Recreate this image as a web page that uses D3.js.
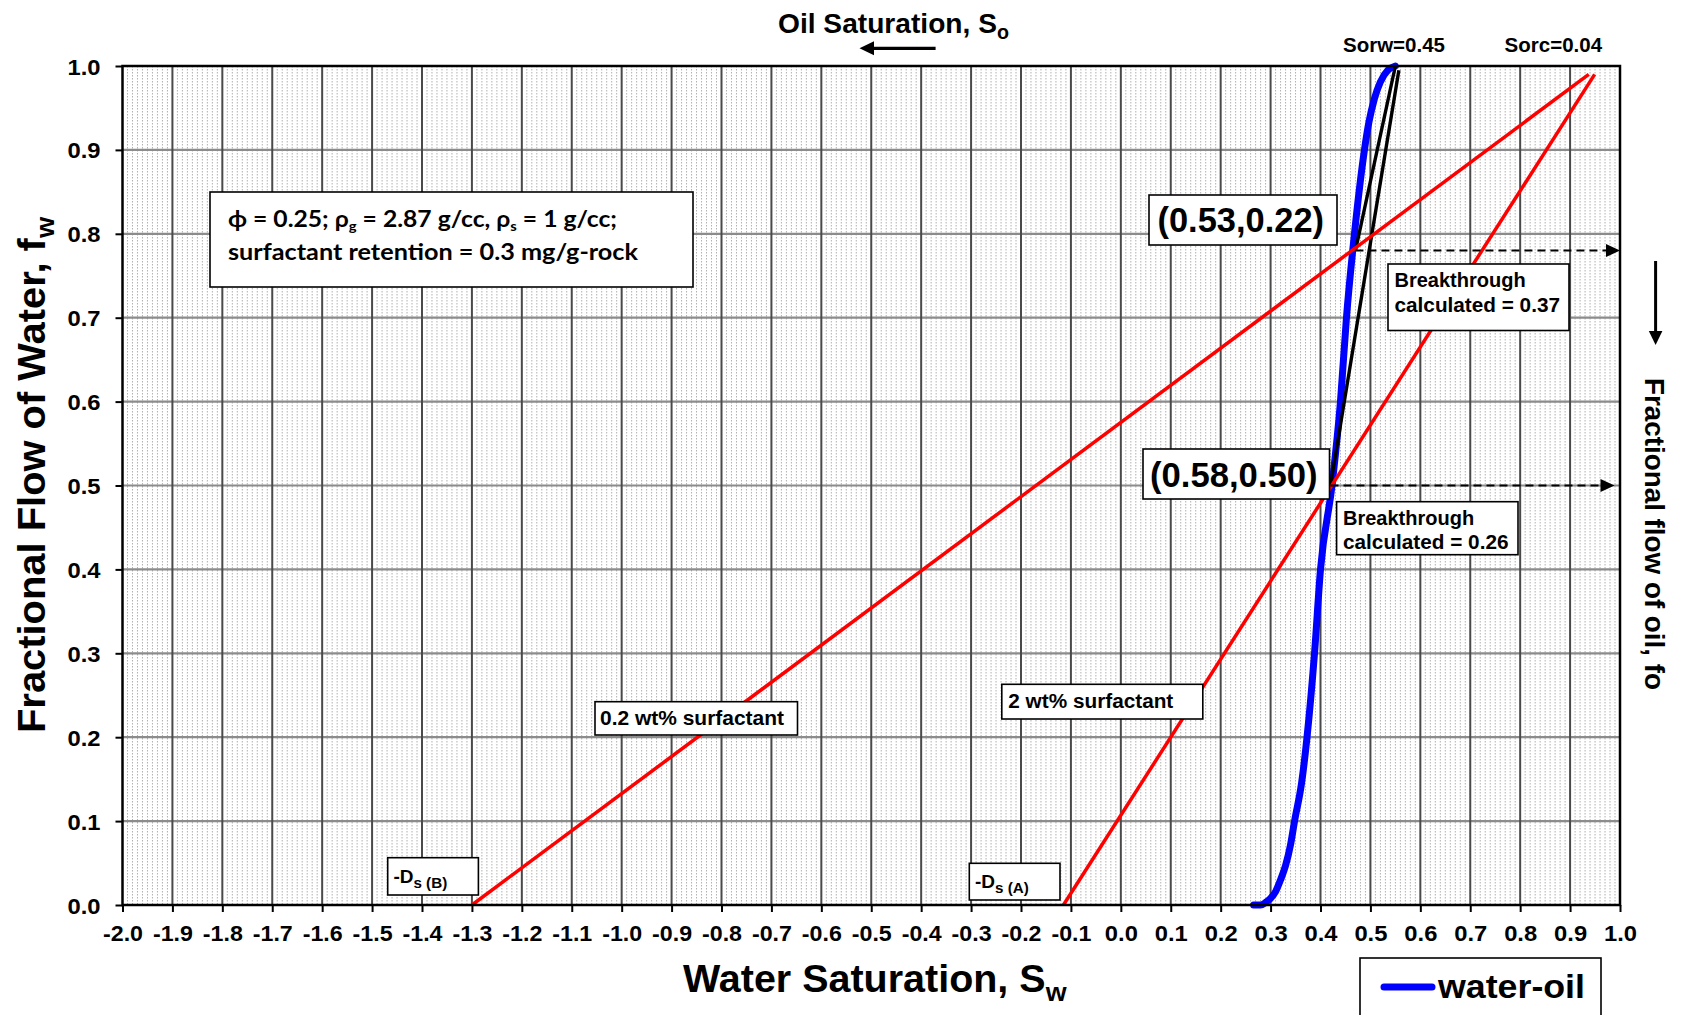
<!DOCTYPE html>
<html>
<head>
<meta charset="utf-8">
<script src="https://cdn.jsdelivr.net/npm/d3@7"></script>
<style>
  body { margin: 0; background: #fff; }
  svg { display: block; }
</style>
</head>
<body>
<svg id="chart" width="1681" height="1015"></svg>
<script>
// ---- Water-oil fractional flow curve (Sw, fw) ----
const waterOilSw = [0.266, 0.280, 0.290, 0.300, 0.310, 0.320, 0.330, 0.340, 0.348, 0.362, 0.373,
                    0.388, 0.400, 0.423, 0.440, 0.452, 0.468, 0.488, 0.497, 0.508, 0.520, 0.535, 0.550];
const waterOilFw = [0.000, 0.000, 0.003, 0.008, 0.016, 0.030, 0.047, 0.072, 0.100, 0.145, 0.200,
                    0.300, 0.400, 0.500, 0.600, 0.700, 0.800, 0.900, 0.933, 0.961, 0.981, 0.995, 1.000];

// ---- Residual oil saturations ----
const sorw = 0.45;   // water flood
const sorc = 0.04;   // chemical flood

// ---- Surfactant adsorption lines: from -Ds on the Sw axis towards (1 - Sorc, 1) ----
const surfactantNames = ["0.2 wt% surfactant", "2 wt% surfactant"];
const dsTags = ["(B)", "(A)"];
const dsValues = [1.30, 0.115];
const surfTopFw = 0.99;

// ---- Tangent lines drawn from the top of the water-oil curve ----
const tangentTopSw = [0.550, 0.557];
const tangentTopFw = [1.000, 0.995];

// ---- Shock points, labelled as (So, fo), and breakthrough values ----
const shockSo = [0.53, 0.58];
const shockFo = [0.22, 0.50];
const breakthrough = [0.37, 0.26];
const arrowTipSw = [1.000, 0.989];

// ---- Axis ticks ----
const xTickValues = d3.range(-20, 11).map(i => i / 10);
const yTickValues = d3.range(0, 11).map(i => i / 10);

// ---------------------------------------------------------------------------
const SANS = "'Liberation Sans', Arial, sans-serif";
const HUMAN = "Lato, 'Open Sans', sans-serif";

const svg = d3.select("#chart");
const x = d3.scaleLinear().domain([-2, 1]).range([122.5, 1620]);
const y = d3.scaleLinear().domain([0, 1]).range([905, 66]);

// Text with optional subscript runs: parts = ["plain", ["sub", true], ...]
function richText(parent, parts, o) {
  const t = parent.append("text")
    .attr("font-family", o.family || SANS)
    .attr("font-weight", "bold")
    .attr("font-size", o.size)
    .attr("text-anchor", o.anchor || "start")
    .attr("fill", "#000");
  if (o.transform) t.attr("transform", o.transform);
  else t.attr("x", o.x).attr("y", o.y);
  if (o.length) t.attr("textLength", o.length).attr("lengthAdjust", "spacingAndGlyphs");
  let shifted = 0;
  parts.forEach(p => {
    const [str, sub] = typeof p === "string" ? [p, false] : p;
    const off = sub ? o.size * (o.subShift || 0.22) : 0;
    t.append("tspan")
      .attr("dy", off - shifted)
      .attr("font-size", sub ? o.size * (o.subScale || 0.65) : o.size)
      .text(str);
    shifted = off;
  });
  return t;
}

function box(parent, x0, y0, w, h) {
  parent.append("rect")
    .attr("x", x0).attr("y", y0).attr("width", w).attr("height", h)
    .attr("fill", "#fff").attr("stroke", "#000").attr("stroke-width", 1.6);
}

// ---- Grid ----
const grid = svg.append("g");
const minorSw = d3.range(-200, 101).filter(i => i % 10 !== 0).map(i => i / 100);
grid.selectAll("line.minor").data(minorSw).join("line")
  .attr("x1", d => x(d)).attr("x2", d => x(d))
  .attr("y1", y(1)).attr("y2", y(0))
  .attr("stroke", "#b0b0b0").attr("stroke-width", 1)
  .attr("stroke-dasharray", "1.5,1.5");

grid.selectAll("line.hmajor").data(yTickValues.slice(1, -1)).join("line")
  .attr("x1", x(-2)).attr("x2", x(1))
  .attr("y1", d => y(d)).attr("y2", d => y(d))
  .attr("stroke", "#8c8c8c").attr("stroke-width", 2.2);

grid.selectAll("line.vmajor").data(xTickValues.slice(1, -1)).join("line")
  .attr("x1", d => x(d)).attr("x2", d => x(d))
  .attr("y1", y(1)).attr("y2", y(0))
  .attr("stroke", "#4a4a4a").attr("stroke-width", 2);

// ---- Axes ----
const fmt = d => d.toFixed(1);
const xAxis = svg.append("g").attr("transform", `translate(0,${y(0)})`)
  .call(d3.axisBottom(x).tickValues(xTickValues).tickSize(7).tickFormat(fmt));
const yAxis = svg.append("g").attr("transform", `translate(${x(-2)},0)`)
  .call(d3.axisLeft(y).tickValues(yTickValues).tickSize(7).tickFormat(fmt));
[xAxis, yAxis].forEach(a => {
  a.select(".domain").remove();
  a.selectAll(".tick line").attr("stroke", "#000").attr("stroke-width", 2);
  a.selectAll(".tick text")
    .attr("font-family", SANS).attr("font-weight", "bold")
    .attr("font-size", 21.5).attr("fill", "#000").attr("dy", null)
    .attr("textLength", d => d < 0 ? 40 : 33)
    .attr("lengthAdjust", "spacingAndGlyphs");
});
xAxis.selectAll(".tick text").attr("y", 36);
yAxis.selectAll(".tick text").attr("x", -22).attr("y", 8);

// ---- Water-oil curve ----
const line = d3.line().x(d => x(d[0])).y(d => y(d[1]));
svg.append("path")
  .datum(d3.zip(waterOilSw, waterOilFw))
  .attr("d", line.curve(d3.curveMonotoneX))
  .attr("fill", "none").attr("stroke", "#0000ff").attr("stroke-width", 7)
  .attr("stroke-linecap", "round").attr("stroke-linejoin", "round");

// ---- Tangent lines to the shock points ----
const straight = d3.line().x(d => x(d[0])).y(d => y(d[1]));
tangentTopSw.forEach((sw, i) => {
  svg.append("path")
    .datum([[sw, tangentTopFw[i]], [1 - shockSo[i], 1 - shockFo[i]]])
    .attr("d", straight)
    .attr("stroke", "#000").attr("stroke-width", 3.4).attr("fill", "none");
});

// ---- Surfactant lines ----
dsValues.forEach(ds => {
  const x0 = -ds, x1 = 1 - sorc;
  const swTop = x0 + (x1 - x0) * surfTopFw;
  svg.append("path")
    .datum([[x0, 0], [swTop, surfTopFw]])
    .attr("d", straight)
    .attr("stroke", "#ff0000").attr("stroke-width", 3.5).attr("fill", "none");
});

// ---- Dashed read-off arrows to the fo axis ----
shockSo.forEach((so, i) => {
  const fw = 1 - shockFo[i];
  const xs = x(1 - so), xe = x(arrowTipSw[i]), yy = y(fw);
  svg.append("line")
    .attr("x1", xs).attr("x2", xe - 12).attr("y1", yy).attr("y2", yy)
    .attr("stroke", "#000").attr("stroke-width", 2).attr("stroke-dasharray", "8,5");
  svg.append("path")
    .attr("d", `M${xe},${yy} L${xe - 14},${yy - 6.5} L${xe - 14},${yy + 6.5} Z`)
    .attr("fill", "#000");
});

// ---- Plot frame ----
svg.append("rect")
  .attr("x", x(-2)).attr("y", y(1))
  .attr("width", x(1) - x(-2)).attr("height", y(0) - y(1))
  .attr("fill", "none").attr("stroke", "#000").attr("stroke-width", 2.5);

// ---- Annotation boxes ----
const ann = svg.append("g");

box(ann, 210, 192, 483, 95);
richText(ann, ["ϕ = 0.25; ρ", ["g", true], " = 2.87 g/cc, ρ", ["s", true], " = 1 g/cc;"],
  {x: 228, y: 227, size: 22, family: HUMAN, length: 389, subScale: 0.6, subShift: 0.2});
richText(ann, ["surfactant retention = 0.3 mg/g-rock"],
  {x: 228, y: 260, size: 22, family: HUMAN, length: 410});

// Shock point labels
const shockLabelBox = [[1149, 195, 188, 50], [1143, 449, 186.5, 50]];
const shockLabelText = [[1157.5, 232, 166.5], [1150, 487, 167.6]];
shockSo.forEach((so, i) => {
  const [bx, by, bw, bh] = shockLabelBox[i];
  box(ann, bx, by, bw, bh);
  const [tx, ty, tl] = shockLabelText[i];
  richText(ann, [`(${so.toFixed(2)},${shockFo[i].toFixed(2)})`], {x: tx, y: ty, size: 35, length: tl});
});

// Breakthrough boxes
const btBox = [[1388, 264, 181, 66.5], [1336.6, 501.7, 181.4, 53]];
const btText = [[1394.5, 287, 311.7], [1343, 525, 549.3]];
breakthrough.forEach((b, i) => {
  const [bx, by, bw, bh] = btBox[i];
  box(ann, bx, by, bw, bh);
  const [tx, y1, y2] = btText[i];
  richText(ann, ["Breakthrough"], {x: tx, y: y1, size: 20});
  richText(ann, [`calculated = ${b.toFixed(2)}`], {x: tx, y: y2, size: 20, length: 165.5});
});

// Surfactant line labels
const surfBox = [[595, 701.7, 202.5, 33.3], [1001.8, 684.3, 201, 34.7]];
const surfText = [[600, 725, 184], [1008.3, 708.3, 165]];
surfactantNames.forEach((name, i) => {
  const [bx, by, bw, bh] = surfBox[i];
  box(ann, bx, by, bw, bh);
  const [tx, ty, tl] = surfText[i];
  richText(ann, [name], {x: tx, y: ty, size: 20, length: tl});
});

// -Ds labels
const dsBox = [[387.7, 857.7, 90.7, 37.3], [969.3, 863.3, 90.7, 36.7]];
const dsText = [[393.4, 882.7], [975, 888.3]];
dsTags.forEach((tag, i) => {
  const [bx, by, bw, bh] = dsBox[i];
  box(ann, bx, by, bw, bh);
  const [tx, ty] = dsText[i];
  richText(ann, ["-D", [`s ${tag}`, true]], {x: tx, y: ty, size: 19, subScale: 0.8, subShift: 0.26});
});

// Residual saturation labels above the frame
richText(svg, [`Sorw=${sorw.toFixed(2)}`], {x: 1343, y: 51.7, size: 20, length: 102});
richText(svg, [`Sorc=${sorc.toFixed(2)}`], {x: 1504.6, y: 51.7, size: 20, length: 97.5});

// ---- Axis titles ----
richText(svg, ["Water Saturation, S", ["w", true]],
  {x: 683, y: 991.7, size: 39, length: 383.5, subScale: 0.68, subShift: 0.24});
richText(svg, ["Fractional Flow of Water, f", ["w", true]],
  {transform: "translate(45,475) rotate(-90)", size: 39, anchor: "middle", length: 516, subScale: 0.68, subShift: 0.24});
richText(svg, ["Oil Saturation, S", ["o", true]],
  {x: 778, y: 32.7, size: 28, length: 231, subScale: 0.7, subShift: 0.22});
richText(svg, ["Fractional flow of oil, fo"],
  {transform: "translate(1645,378) rotate(90)", size: 28, length: 312});

// Direction arrows
svg.append("line").attr("x1", 935.6).attr("x2", 870).attr("y1", 48.3).attr("y2", 48.3)
  .attr("stroke", "#000").attr("stroke-width", 3.3);
svg.append("path").attr("d", "M859.5,48.3 L874,41.3 L874,55.3 Z").attr("fill", "#000");
svg.append("line").attr("x1", 1655.6).attr("x2", 1655.6).attr("y1", 261).attr("y2", 334)
  .attr("stroke", "#000").attr("stroke-width", 3);
svg.append("path").attr("d", "M1655.6,345 L1648.8,331 L1662.4,331 Z").attr("fill", "#000");

// ---- Legend ----
const legend = svg.append("g");
legend.append("rect").attr("x", 1360).attr("y", 958).attr("width", 241).attr("height", 80)
  .attr("fill", "#fff").attr("stroke", "#000").attr("stroke-width", 1.6);
legend.append("line").attr("x1", 1384).attr("x2", 1432).attr("y1", 987).attr("y2", 987)
  .attr("stroke", "#0000ff").attr("stroke-width", 7).attr("stroke-linecap", "round");
richText(legend, ["water-oil"], {x: 1438, y: 997.7, size: 34, length: 147});
</script>
</body>
</html>
